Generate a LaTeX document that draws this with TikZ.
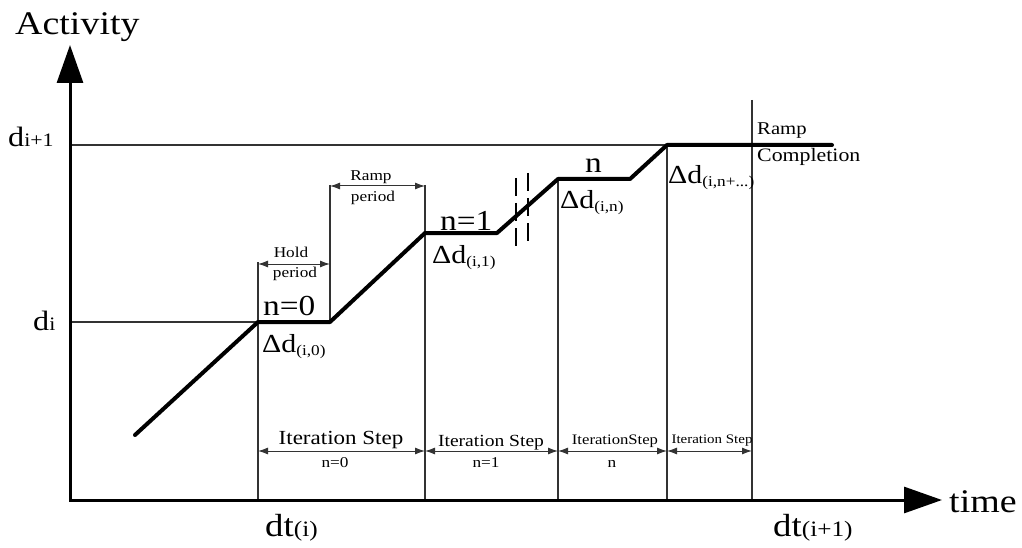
\documentclass[tikz,border=0pt]{standalone}
\usepackage{fontspec}
\setmainfont[FakeStretch=1.15]{Liberation Serif}
\usetikzlibrary{arrows.meta}
\newcommand{\fsz}[1]{\fontsize{#1}{#1}\selectfont}
\newcommand{\sbx}[1]{\raisebox{-3pt}{\fsz{15}#1}}
\begin{document}
\begin{tikzpicture}[x=1pt,y=-1pt,
  thinln/.style={line width=1.1pt, draw=black!80},
  curveln/.style={line width=4pt, line join=round, line cap=round},
  axisln/.style={line width=3pt, {Triangle[length=38pt,width=26pt]}-{Triangle[length=38pt,width=26pt]}},
  dimln/.style={line width=1pt, draw=black!80, {Latex[length=10pt,width=7pt]}-{Latex[length=10pt,width=7pt]}},
  brk/.style={line width=2pt, dash pattern=on 18pt off 7pt},
  lbl/.style={inner sep=0pt, anchor=base west},
  ctr/.style={inner sep=0pt, anchor=base},
]
\useasboundingbox (0,0) rectangle (1022,548);

% axes
\coordinate (O) at (70,500);
\coordinate (Ytip) at (70,45);
\coordinate (Xtip) at (942,500);

% curve points
\coordinate (c0) at (135,435);
\coordinate (c1) at (258,322);
\coordinate (c2) at (330,322);
\coordinate (c3) at (425,233);
\coordinate (c4) at (497,233);
\coordinate (c5) at (558,179);
\coordinate (c6) at (630,179);
\coordinate (c7) at (667,145);
\coordinate (c8) at (832,145);

% level lines
\coordinate (di) at (70,322);
\coordinate (dii) at (70,145);
\draw[thinln] (di) -- (c1);
\draw[thinln] (dii) -- (c7);

% vertical guides
\coordinate (v1t) at (258,262);   \coordinate (v1b) at (258,500);
\coordinate (v2t) at (330,185);
\coordinate (v3t) at (425,185);   \coordinate (v3b) at (425,500);
\coordinate (v5b) at (558,500);
\coordinate (v7b) at (667,500);
\coordinate (v8t) at (752,100);   \coordinate (v8b) at (752,500);
\draw[thinln] (v1t) -- (v1b);
\draw[thinln] (v2t) -- (c2);
\draw[thinln] (v3t) -- (v3b);
\draw[thinln] (c5) -- (v5b);
\draw[thinln] (c7) -- (v7b);
\draw[thinln] (v8t) -- (v8b);

% dimension arrows
\coordinate (h1) at (258,264); \coordinate (h2) at (330,264);
\coordinate (r1) at (330,186); \coordinate (r2) at (425,186);
\coordinate (s0) at (258,451); \coordinate (s1) at (425,451);
\coordinate (s2) at (558,451); \coordinate (s3) at (667,451);
\coordinate (s4) at (752,451);
\draw[dimln] (h1) -- (h2);
\draw[dimln] (r1) -- (r2);
\draw[dimln] (s0) -- (s1);
\draw[dimln] (s1) -- (s2);
\draw[dimln] (s2) -- (s3);
\draw[dimln] (s3) -- (s4);

% break marks
\coordinate (b1t) at (516,178); \coordinate (b1b) at (516,250);
\coordinate (b2t) at (528,173); \coordinate (b2b) at (528,245);
\draw[brk] (b1t) -- (b1b);
\draw[brk] (b2t) -- (b2b);

% activity curve
\draw[curveln] (c0) -- (c1) -- (c2) -- (c3) -- (c4) -- (c5) -- (c6) -- (c7) -- (c8);

% axes
\draw[axisln, line join=miter] (Ytip) -- (O) -- (Xtip);

% axis labels
\node[lbl, font=\fsz{33}] (act) at (15,35) {Activity};
\node[lbl, font=\fsz{33}] (tim) at (949,512) {time};
\node[lbl] (ldii) at (8,147) {\fsz{28}d\fsz{19}i+1};
\node[lbl] (ldi) at (33,330) {\fsz{28}d\fsz{19}i};
\node[lbl] (ldt) at (265,536) {\fsz{32}dt\fsz{22}(i)};
\node[lbl] (ldtt) at (773,536) {\fsz{32}dt\fsz{22}(i+1)};

% step labels
\node[lbl, font=\fsz{29}] (n0) at (263,315) {n=0};
\node[lbl] (dd0) at (262,352) {\fsz{26}Δd\sbx{(i,0)}};
\node[lbl, font=\fsz{29}] (n1) at (440,230) {n=1};
\node[lbl] (dd1) at (432,263) {\fsz{26}Δd\sbx{(i,1)}};
\node[lbl, font=\fsz{29}] (nn) at (585,173) {n};
\node[lbl] (ddn) at (560,208) {\fsz{26}Δd\sbx{(i,n)}};
\node[lbl] (ddm) at (668,183) {\fsz{26}Δd\sbx{(i,n+...)}};

% hold / ramp labels
\node[ctr, font=\fsz{15}] (hold1) at (291,257) {Hold};
\node[ctr, font=\fsz{15}] (hold2) at (295,277) {period};
\node[ctr, font=\fsz{15}] (ramp1) at (371,181) {Ramp};
\node[ctr, font=\fsz{15}] (ramp2) at (373,201) {period};
\node[lbl, font=\fsz{18}] (rc1) at (757,135) {Ramp};
\node[lbl, font=\fsz{19}] (rc2) at (757,162) {Completion};

% iteration step labels
\node[ctr, font=\fsz{20}] (it0) at (341,444) {Iteration Step};
\node[ctr, font=\fsz{15}] (it0n) at (335,467) {n=0};
\node[ctr, font=\fsz{17}] (it1) at (491,446) {Iteration Step};
\node[ctr, font=\fsz{15}] (it1n) at (486,467) {n=1};
\node[ctr, font=\fsz{14.5}] (it2) at (615,444) {IterationStep};
\node[ctr, font=\fsz{15}] (it2n) at (612,467) {n};
\node[ctr, font=\fsz{13}] (it3) at (712,443) {Iteration Step};
\end{tikzpicture}
\end{document}
